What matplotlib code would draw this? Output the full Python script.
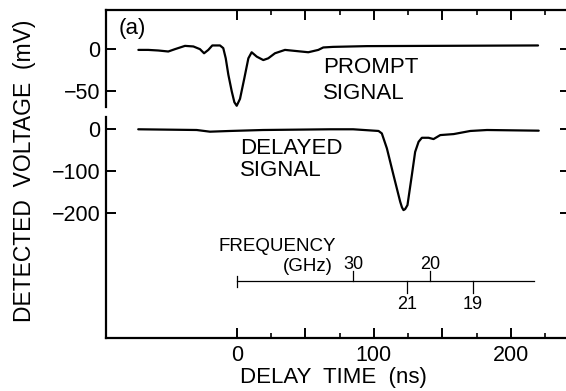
import matplotlib
matplotlib.use("Agg")
import matplotlib.pyplot as plt
from matplotlib.transforms import blended_transform_factory

plt.rcParams['font.family'] = ['Liberation Sans', 'DejaVu Sans']

# ---------------- data ----------------
prompt_t = [-71.7, -64.5, -57.2, -49.9, -45.0, -37.7, -31.6, -26.8, -23.8, -20.7,
            -17.8, -12.2, -9.8, -8.0, -6.1, -3.6, -1.7, 0.0, 2.4, 5.5, 8.5,
            10.9, 14.6, 19.4, 23.0, 27.9, 35.2, 42.5, 52.2, 59.5, 63.1, 70.2,
            94.8, 143.1, 219.7]
prompt_mv = [-0.5, -0.5, -1.2, -2.4, 0.4, 4.3, 3.6, 0.4, -4.5, -0.5,
             4.8, 4.8, 1.6, -10.5, -30.0, -50.0, -62.8, -67.0, -58.8, -34.7, -10.5,
             -3.3, -8.5, -12.6, -10.5, -4.5, -0.5, -1.7, -3.3, -0.5, 2.4, 3.1,
             4.0, 4.3, 4.8]

delayed_t = [-71.8, -29.2, -19.5, -4.9, 19.2, 68.1, 84.9, 103.4, 105.8, 109.5,
             114.3, 119.2, 120.5, 121.6, 122.8, 124.5, 127.7, 130.1, 132.6, 135.0,
             139.9, 143.5, 148.4, 158.2, 170.3, 182.5, 220.2]
delayed_mv = [0.0, -1.7, -5.7, -4.0, -1.7, 0.0, 0.0, -4.0, -9.8, -45.5,
              -109.0, -172.6, -186.0, -192.4, -190.0, -180.5, -109.0, -53.8, -29.8, -20.2,
              -20.2, -23.3, -13.8, -11.4, -4.0, -1.7, -3.3]

x_major_ticks = [0, 50, 100, 150, 200]
x_major_labels = ['0', '', '100', '', '200']
x_minor_ticks = [25, 75, 125, 175, 225]

prompt_tick_values = [0, -50]
delayed_tick_values = [0, -100, -200]

freq_labels = ['30', '21', '20', '19']
freq_times = [85.1, 124.1, 141.1, 172.3]
freq_sides = ['up', 'down', 'up', 'down']
freq_scale_end = 216.5

# ---------------- layout constants ----------------
PROMPT_OFFSET = 190.0   # where prompt 0 mV sits on the shared axis
PROMPT_SCALE = 2.0      # prompt trace is drawn twice as tall per mV
FREQ_Y = -360.5

fig = plt.figure(figsize=(5.66, 3.91), dpi=100)
ax = fig.add_axes([106 / 566, 53 / 391, 464 / 566, 328 / 391])

ax.set_xlim(-95.3, 243.0)
ax.set_ylim(-496.9, 284.0)

lw = 1.6
ax.plot(prompt_t, [PROMPT_OFFSET + PROMPT_SCALE * v for v in prompt_mv],
        color='black', lw=lw, solid_joinstyle='round', solid_capstyle='round')
ax.plot(delayed_t, delayed_mv, color='black', lw=lw,
        solid_joinstyle='round', solid_capstyle='round')

# spines
for s in ['top', 'bottom']:
    ax.spines[s].set_linewidth(1.6)
ax.spines['right'].set_visible(False)
ax.spines['left'].set_visible(False)
btrans = blended_transform_factory(ax.transAxes, ax.transData)
ax.plot([0, 0], [53, 284.0], transform=btrans, color='black', lw=1.6,
        clip_on=False, solid_capstyle='projecting')
ax.plot([0, 0], [29.3, -496.9], transform=btrans, color='black', lw=1.6,
        clip_on=False, solid_capstyle='projecting')

# x ticks
ax.set_xticks(x_major_ticks)
ax.set_xticklabels(x_major_labels)
ax.set_xticks(x_minor_ticks, minor=True)
ax.tick_params(axis='x', which='major', direction='in', length=7, width=1.4,
               top=True, bottom=True, labelsize=15.5, pad=5)
ax.tick_params(axis='x', which='minor', direction='in', length=3.5, width=1.2,
               top=True, bottom=True)

# y ticks
y_tick_pos = [PROMPT_OFFSET + PROMPT_SCALE * v for v in prompt_tick_values] + delayed_tick_values
y_tick_lab = [f'{v}'.replace('-', '\u2212') for v in prompt_tick_values + delayed_tick_values]
ax.set_yticks(y_tick_pos)
ax.set_yticklabels(y_tick_lab)
ax.tick_params(axis='y', which='major', direction='in', length=7.5, width=1.4,
               left=True, right=True, labelsize=15.5, pad=4)

ax.set_xlabel('DELAY  TIME  (ns)', fontsize=16)
ax.xaxis.label.set_va('center')
ax.xaxis.set_label_coords((333 - 106) / 464, (338 - 377) / 328)
ax.set_ylabel('DETECTED  VOLTAGE  (mV)', fontsize=16.5)
ax.yaxis.label.set_va('center')
ax.yaxis.set_label_coords((25 - 106) / 464, (338 - 170.5) / 328)

# annotations
ax.text(-86.3, 238.8, '(a)', fontsize=16, ha='left', va='center')
ax.text(63.0, 147.0, 'PROMPT', fontsize=16, ha='left', va='center')
ax.text(63.0, 85.0, 'SIGNAL', fontsize=16, ha='left', va='center')
ax.text(2.6, -46.0, 'DELAYED', fontsize=16, ha='left', va='center')
ax.text(2.6, -98.0, 'SIGNAL', fontsize=16, ha='left', va='center')

# frequency scale
fl = 0.9
ax.plot([0, freq_scale_end], [FREQ_Y, FREQ_Y], color='black', lw=fl)
ax.plot([0, 0], [FREQ_Y + 12, FREQ_Y - 14], color='black', lw=fl)
for lab, t, side in zip(freq_labels, freq_times, freq_sides):
    if side == 'up':
        ax.plot([t, t], [FREQ_Y, FREQ_Y + 24], color='black', lw=fl)
        ax.text(t, -323.0, lab, fontsize=13, ha='center', va='center')
    else:
        ax.plot([t, t], [FREQ_Y, FREQ_Y - 30], color='black', lw=fl)
        ax.text(t, -416.0, lab, fontsize=13, ha='center', va='center')
ax.text(-13.6, -279.0, 'FREQUENCY', fontsize=13.5, ha='left', va='center')
ax.text(70.3, -325.5, '(GHz)', fontsize=13.5, ha='right', va='center')

fig.savefig('out.png', dpi=100)
